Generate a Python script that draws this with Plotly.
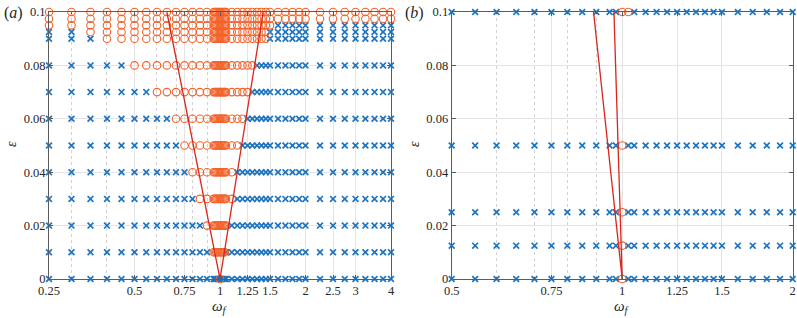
import math
import plotly.graph_objects as go

# ---------------- data: panel (a) ----------------
omega_a = [0.25, 0.3, 0.35, 0.4, 0.45, 0.5, 0.55, 0.6, 0.65, 0.7, 0.75, 0.8, 0.85, 0.9,
           0.95, 0.96, 0.97, 0.98, 0.99, 1.0, 1.01, 1.02, 1.03, 1.04, 1.05,
           1.1, 1.15, 1.2, 1.25, 1.3, 1.35, 1.4, 1.45, 1.5,
           1.6, 1.7, 1.8, 1.9, 2.0,
           2.25, 2.5, 2.75, 3.0, 3.25, 3.5, 3.75, 4.0]
eps_a = [0, 0.01, 0.02, 0.03, 0.04, 0.05, 0.06, 0.07, 0.08, 0.09, 0.0925, 0.095, 0.0975, 0.1]
# locked (circle) interval of omega for each eps row
lock_lo_a = [1.0, 0.95, 0.9, 0.85, 0.8, 0.75, 0.7, 0.6, 0.5, 0.4, 0.35, 0.25, 0.25, 0.25]
lock_hi_a = [1.0, 1.04, 1.05, 1.1, 1.1, 1.15, 1.2, 1.25, 1.3, 1.45, 1.45, 1.5, 4.0, 4.0]
tongue_eps_a = [0, 0.1]
tongue_left_a = [1.0, 0.65]
tongue_right_a = [1.0, 1.42]

# ---------------- data: panel (b) ----------------
omega_b = [0.5, 0.55, 0.6, 0.65, 0.7, 0.75, 0.8, 0.85, 0.9, 0.95, 0.975, 1.0, 1.025,
           1.05, 1.1, 1.15, 1.2, 1.25, 1.3, 1.35, 1.4, 1.45, 1.5,
           1.6, 1.7, 1.8, 1.9, 2.0]
eps_b = [0, 0.0125, 0.025, 0.05, 0.1]
lock_lo_b = [1.0, 1.0, 1.0, 1.0, 1.0]
lock_hi_b = [1.0, 1.0, 1.0, 1.0, 1.025]
tongue_eps_b = [0, 0.1]
tongue_left_b = [1.0, 0.89]
tongue_right_b = [1.0, 0.967]

# ---------------- ticks ----------------
xtick_a = [0.25, 0.5, 0.75, 1, 1.25, 1.5, 2, 2.5, 3, 4]
xtick_a_text = ["0.25", "0.5", "0.75", "1", "1.25", "1.5", "2", "2.5", "3", "4"]
xminor_a = [0.3, 0.4, 0.6, 0.7, 0.8, 0.9, 2, 3]
xtick_b = [0.5, 0.75, 1, 1.25, 1.5, 2]
xtick_b_text = ["0.5", "0.75", "1", "1.25", "1.5", "2"]
xminor_b = [0.6, 0.7, 0.8, 0.9]
ytick = [0, 0.02, 0.04, 0.06, 0.08, 0.1]
ytick_text = ["0", "0.02", "0.04", "0.06", "0.08", "0.1"]

BLUE = "#1f74c0"
ORANGE = "#f3622a"
RED = "#d8261c"
AXC = "#5c5c5c"
FONT = "Liberation Serif"
W, H = 797, 318


def split(omegas, epss, lo, hi):
    cx, cy, xx, xy = [], [], [], []
    for e, l, h in zip(epss, lo, hi):
        for w in omegas:
            if l - 1e-9 <= w <= h + 1e-9:
                cx.append(w); cy.append(e)
            else:
                xx.append(w); xy.append(e)
    return cx, cy, xx, xy


fig = go.Figure()
for (om, ep, lo, hi, tl, tr, te, xa, ya) in [
        (omega_a, eps_a, lock_lo_a, lock_hi_a, tongue_left_a, tongue_right_a, tongue_eps_a, "x", "y"),
        (omega_b, eps_b, lock_lo_b, lock_hi_b, tongue_left_b, tongue_right_b, tongue_eps_b, "x2", "y2")]:
    cx, cy, xx, xy = split(om, ep, lo, hi)
    fig.add_trace(go.Scatter(x=xx, y=xy, mode="markers", xaxis=xa, yaxis=ya, cliponaxis=False,
                             marker=dict(symbol="x-thin", size=5.8, color=BLUE,
                                         line=dict(width=1.7, color=BLUE)),
                             showlegend=False, hoverinfo="skip"))
    fig.add_trace(go.Scatter(x=cx, y=cy, mode="markers", xaxis=xa, yaxis=ya, cliponaxis=False,
                             marker=dict(symbol="circle-open", size=7.5, color=ORANGE,
                                         line=dict(width=1.1, color=ORANGE)),
                             showlegend=False, hoverinfo="skip"))
    fig.add_trace(go.Scatter(x=tl, y=te, mode="lines", xaxis=xa, yaxis=ya,
                             line=dict(color=RED, width=1.3), showlegend=False, hoverinfo="skip"))
    fig.add_trace(go.Scatter(x=tr, y=te, mode="lines", xaxis=xa, yaxis=ya,
                             line=dict(color=RED, width=1.3), showlegend=False, hoverinfo="skip"))

ydom = [(H - 279) / H, (H - 12) / H]


def xaxis_cfg(dom, rng, tv, tt, mv, anchor):
    return dict(domain=dom, type="log", range=[math.log10(rng[0]), math.log10(rng[1])],
                tickmode="array", tickvals=tv, ticktext=tt, ticks="inside", ticklen=4,
                tickcolor=AXC, mirror="allticks", showline=True, linecolor=AXC, linewidth=1,
                showgrid=True, gridcolor="#e4e4e4", gridwidth=1, zeroline=False,
                automargin=False,
                tickfont=dict(family=FONT, size=12.5, color="#262626"), anchor=anchor,
                minor=dict(tickmode="array", tickvals=mv, showgrid=True, griddash="dot",
                           gridcolor="#d2d2d2", gridwidth=1, ticks="inside", ticklen=2,
                           tickcolor=AXC))


def yaxis_cfg(anchor):
    return dict(domain=ydom, range=[0, 0.1], tickmode="array", tickvals=ytick, ticktext=ytick_text,
                ticks="inside", ticklen=4, tickcolor=AXC, mirror="allticks", showline=True,
                linecolor=AXC, linewidth=1, showgrid=True, gridcolor="#e4e4e4", gridwidth=1,
                zeroline=False, automargin=False,
                tickfont=dict(family=FONT, size=12.5, color="#262626"),
                anchor=anchor)


fig.update_layout(
    width=W, height=H, margin=dict(l=0, r=0, t=0, b=0, pad=0, autoexpand=False),
    paper_bgcolor="white", plot_bgcolor="white",
    xaxis=xaxis_cfg([49 / W, 391 / W], [0.25, 4], xtick_a, xtick_a_text, xminor_a, "y"),
    yaxis=yaxis_cfg("x"),
    xaxis2=xaxis_cfg([451.7 / W, 792.7 / W], [0.5, 2], xtick_b, xtick_b_text, xminor_b, "y2"),
    yaxis2=yaxis_cfg("x2"),
)

ann = []
for px, lab in [(2, "a"), (403, "b")]:
    ann.append(dict(x=px / W, y=(H - 13) / H, xref="paper", yref="paper", xanchor="left",
                    yanchor="middle", showarrow=False, text="(<i>%s</i>)" % lab,
                    font=dict(family=FONT, size=16, color="#262626")))
for px in [11, 414]:
    ann.append(dict(x=px / W, y=(H - 144) / H, xref="paper", yref="paper", xanchor="center",
                    yanchor="middle", showarrow=False, text="<i>ε</i>", textangle=-90,
                    font=dict(family=FONT, size=14, color="#262626")))
for px in [220, 622]:
    ann.append(dict(x=px / W, y=(H - 307) / H, xref="paper", yref="paper", xanchor="center",
                    yanchor="middle", showarrow=False, text="<i>ω</i><sub><i>f</i></sub>",
                    font=dict(family=FONT, size=15, color="#262626")))
fig.update_layout(annotations=ann)

fig.write_html("out.html", config={"displayModeBar": False})

# remove default page margins so the 797x318 figure fits the window exactly
with open("out.html", "r", encoding="utf-8") as f:
    html = f.read()
html = html.replace("<head>", "<head><style>html,body{margin:0;padding:0;overflow:hidden;}</style>", 1)
with open("out.html", "w", encoding="utf-8") as f:
    f.write(html)
